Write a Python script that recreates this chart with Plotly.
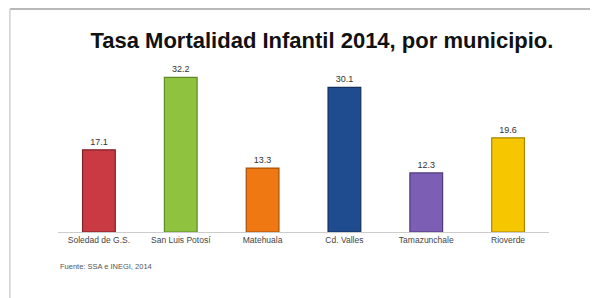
import plotly.graph_objects as go

categorias = ["Soledad de G.S.", "San Luis Potosí", "Matehuala", "Cd. Valles", "Tamazunchale", "Rioverde"]
tasas = [17.1, 32.2, 13.3, 30.1, 12.3, 19.6]
etiquetas = ["17.1", "32.2", "13.3", "30.1", "12.3", "19.6"]
colores = ["#c93a43", "#8fc23f", "#f07812", "#1f4c8e", "#7c5fb4", "#f6c600"]
bordes = ["#7d2228", "#5f8a28", "#a6500a", "#12305c", "#4f3b7a", "#a88700"]
titulo = "Tasa Mortalidad Infantil 2014, por municipio."
fuente = "Fuente: SSA e INEGI, 2014"

fig = go.Figure(go.Bar(
    x=categorias, y=tasas, text=etiquetas, textposition="outside",
    textfont=dict(size=9, color="#333333", family="Liberation Sans"),
    marker=dict(color=colores, line=dict(color=bordes, width=1.2)),
    width=0.4, cliponaxis=False,
))

fig.update_layout(
    width=598, height=298,
    margin=dict(l=50, r=57, t=52, b=74),
    paper_bgcolor="white", plot_bgcolor="white",
    showlegend=False,
    title=dict(text="<b>" + titulo + "</b>", x=0.525, xanchor="center", y=0.893, yanchor="middle",
               font=dict(size=22, family="Liberation Sans", color="#111111")),
    xaxis=dict(showgrid=False, showline=True, linecolor="#cccccc", linewidth=1,
               tickfont=dict(size=8.5, color="#444444", family="Liberation Sans"), ticks=""),
    yaxis=dict(range=[0, 35.8], visible=False),
    annotations=[dict(text=fuente, xref="paper", yref="paper", x=0.0, y=-0.2,
                      xanchor="left", yanchor="middle", showarrow=False,
                      font=dict(size=7.5, color="#555555", family="Liberation Sans"))],
    shapes=[
        dict(type="line", xref="paper", yref="paper", x0=-0.098, x1=1.2, y0=1.297, y1=1.297,
             line=dict(color="#b8b8b8", width=2)),
        dict(type="line", xref="paper", yref="paper", x0=-0.098, x1=-0.098, y0=-0.5, y1=1.297,
             line=dict(color="#d0d0d0", width=1.5)),
    ],
)

fig.write_html("out.html")
